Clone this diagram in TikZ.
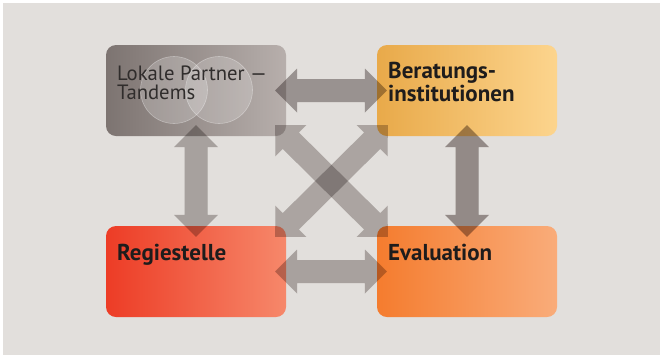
\documentclass[tikz,border=0pt]{standalone}
\usepackage{fontspec}
\setmainfont{PT Sans}
\usetikzlibrary{calc}
\definecolor{bgc}{RGB}{226,223,220}
\definecolor{tlA}{RGB}{120,111,108}
\definecolor{tlB}{RGB}{188,180,177}
\definecolor{trA}{RGB}{231,166,68}
\definecolor{trB}{RGB}{254,216,147}
\definecolor{blA}{RGB}{236,54,32}
\definecolor{blB}{RGB}{247,142,112}
\definecolor{brA}{RGB}{244,120,40}
\definecolor{brB}{RGB}{250,176,128}
\definecolor{txt}{RGB}{30,28,28}
\definecolor{arL}{RGB}{211,207,206}
\definecolor{arR}{RGB}{186,178,176}
\definecolor{arT}{RGB}{194,188,188}
\definecolor{arB}{RGB}{213,207,206}
\definecolor{arD}{RGB}{216,211,210}
\newcommand\dblarr[3]{%
  \path (#1); \pgfgetlastxy{\ax}{\ay}%
  \path (#2); \pgfgetlastxy{\bx}{\by}%
  \pgfmathsetmacro\ang{atan2(\by-\ay,\bx-\ax)}%
  \pgfmathsetmacro\len{veclen(\bx-\ax,\by-\ay)}%
  \fill[#3, shift={(#1)}, rotate=\ang] (0,0) -- (22,22) -- (22,11.5) -- (\len-22,11.5) -- (\len-22,22) -- (\len,0) -- (\len-22,-22) -- (\len-22,-11.5) -- (22,-11.5) -- (22,-22) -- cycle;%
}
\newcommand\shadowarr[2]{%
  \begin{scope}[shift={(3,-3)}]\dblarr{#1}{#2}{arrshadow}\end{scope}%
  \begin{scope}[shift={(5,-4)}]\dblarr{#1}{#2}{arrshadow}\end{scope}%
  \begin{scope}[shift={(7,-5)}]\dblarr{#1}{#2}{arrshadow}\end{scope}%
}
\tikzset{
  box/.style 2 args={rounded corners=10pt, minimum width=180pt, minimum height=91pt, inner sep=0pt,
    path picture={\shade[left color=#1, right color=#2, rotate around={-30:(path picture bounding box.center)}]
      ($(path picture bounding box.center)+(-105,-110)$) rectangle ($(path picture bounding box.center)+(105,110)$);}},
  lbl/.style={anchor=base west, inner sep=0pt, text=txt, align=left},
  bold/.style={font=\bfseries\fontsize{23}{21}\selectfont},
  arrowfill/.style={fill=#1, blend mode=multiply},
  arrshadow/.style={fill=black, fill opacity=0.035},
  venn/.style={fill=white, fill opacity=0.2, draw=white, draw opacity=0.35, line width=0.6pt},
}
\begin{document}
\begin{tikzpicture}[x=1pt,y=1pt]
\fill[white] (0,0) rectangle (663,-357);
\fill[bgc] (3,-3) rectangle (660,-355);
% boxes
\node[box={tlA}{tlB}] (tl) at (196,-90.5) {};
\node[box={trA}{trB}] (tr) at (467,-90.5) {};
\node[box={blA}{blB}] (bl) at (196,-271.5) {};
\node[box={brA}{brB}] (br) at (467,-271.5) {};
% venn circles
\path[venn] (174,-90) circle (33.5);
\path[venn] (219,-90) circle (33.5);
% texts
\node[lbl, font=\fontsize{20.7}{19}\selectfont, text=txt!80!tlA] (tlt) at (117,-99) {Lokale Partner —\\Tandems};
\node[lbl, bold] (trt) at (388,-101) {Beratungs-\\institutionen};
\node[lbl, bold] (blt) at (117,-260) {Regiestelle};
\node[lbl, bold] (brt) at (388,-260) {Evaluation};
% arrow end points
\coordinate (a1) at ($(tl.east)+(-11,0)$);
\coordinate (a2) at ($(tr.west)+(10,0)$);
\coordinate (b1) at ($(tl.south)+(0,11)$);
\coordinate (b2) at ($(bl.north)+(0,-11)$);
\coordinate (c1) at ($(tr.south)+(0,11)$);
\coordinate (c2) at ($(br.north)+(0,-11)$);
\coordinate (d1) at ($(bl.east)+(-11,0)$);
\coordinate (d2) at ($(br.west)+(10,0)$);
\coordinate (e1) at ($(tl.south east)+(-11,11)$);
\coordinate (e2) at ($(br.north west)+(11,-11)$);
\coordinate (f1) at ($(tr.south west)+(11,11)$);
\coordinate (f2) at ($(bl.north east)+(-11,-11)$);
% shadows
\shadowarr{a1}{a2}
\shadowarr{b1}{b2}
\shadowarr{c1}{c2}
\shadowarr{d1}{d2}
\shadowarr{e1}{e2}
\shadowarr{f1}{f2}
% arrows
\dblarr{a1}{a2}{arrowfill=arT}
\dblarr{b1}{b2}{arrowfill=arL}
\dblarr{c1}{c2}{arrowfill=arR}
\dblarr{d1}{d2}{arrowfill=arB}
\dblarr{e1}{e2}{arrowfill=arD}
\dblarr{f1}{f2}{arrowfill=arD}
\end{tikzpicture}
\end{document}
